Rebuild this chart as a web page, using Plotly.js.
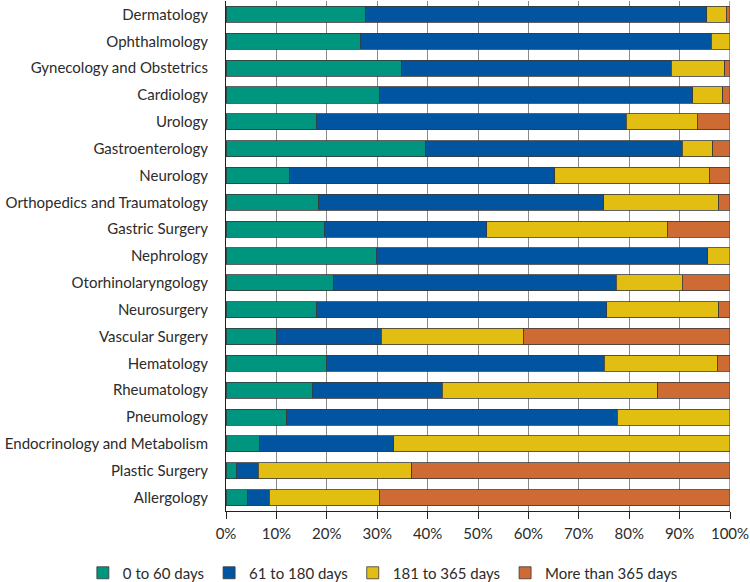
<!DOCTYPE html>
<html>
<head>
<meta charset="utf-8">
<script src="https://cdn.plot.ly/plotly-3.0.1.min.js"></script>
<style>html,body{margin:0;padding:0;background:#fff;}#chart{width:750px;height:582px;}</style>
</head>
<body>
<div id="chart"></div>
<script>
const categories = ["Dermatology","Ophthalmology","Gynecology and Obstetrics","Cardiology","Urology","Gastroenterology","Neurology","Orthopedics and Traumatology","Gastric Surgery","Nephrology","Otorhinolaryngology","Neurosurgery","Vascular Surgery","Hematology","Rheumatology","Pneumology","Endocrinology and Metabolism","Plastic Surgery","Allergology"];
const days0to60    = [27.7, 26.6, 34.9, 30.4, 17.9, 39.6, 12.5, 18.4, 19.5, 29.8, 21.4, 18.0, 10.0, 19.9, 17.1, 12.1, 6.6, 2.0, 4.2];
const days61to180  = [67.7, 69.7, 53.4, 62.2, 61.5, 50.9, 52.7, 56.5, 32.2, 65.8, 56.0, 57.5, 20.8, 55.1, 25.8, 65.5, 26.7, 4.4, 4.4];
const days181to365 = [3.9, 3.7, 10.7, 6.0, 14.1, 6.1, 30.7, 22.9, 35.8, 4.4, 13.1, 22.3, 28.2, 22.5, 42.8, 22.4, 66.7, 30.5, 21.8];
const daysOver365  = [0.7, 0.0, 1.0, 1.4, 6.5, 3.4, 4.1, 2.2, 12.5, 0.0, 9.5, 2.2, 41.0, 2.5, 14.3, 0.0, 0.0, 63.1, 69.6];
const seriesNames = ["0 to 60 days","61 to 180 days","181 to 365 days","More than 365 days"];
const tickVals = [0,10,20,30,40,50,60,70,80,90,100];
const tickText = ["0%","10%","20%","30%","40%","50%","60%","70%","80%","90%","100%"];

const colors = ["#00957F","#0054A0","#E3BE12","#CE6A34"];
const seriesData = [days0to60, days61to180, days181to365, daysOver365];
const traces = seriesData.map((vals, i) => ({
  type: 'bar',
  orientation: 'h',
  name: seriesNames[i],
  y: categories,
  x: vals,
  width: 0.6,
  marker: {color: colors[i], line: {color: '#3a3a3a', width: 0.8}},
  hoverinfo: 'none'
}));

const font = {family: 'Lato, "Open Sans", sans-serif', size: 15, color: '#2b2b2b'};
const layout = {
  width: 750, height: 582,
  barmode: 'stack',
  margin: {l: 226, r: 20, t: 1, b: 71, autoexpand: false},
  paper_bgcolor: '#fff', plot_bgcolor: '#fff',
  font: font,
  bargap: 0.4,
  xaxis: {
    range: [0, 100],
    tickvals: tickVals, ticktext: tickText,
    showgrid: true, gridcolor: '#8a8a8a', gridwidth: 1,
    zeroline: false,
    showline: true, linecolor: '#222', linewidth: 1, mirror: false,
    ticks: 'outside', ticklen: 7, tickcolor: '#222',
    ticklabelstandoff: 2,
    tickfont: font,
    automargin: false,
    fixedrange: true
  },
  yaxis: {
    autorange: 'reversed',
    type: 'category',
    showline: true, linecolor: '#222', linewidth: 1,
    ticks: '', ticklen: 0,
    tickfont: font,
    ticklabelstandoff: 14,
    showgrid: false,
    automargin: false,
    fixedrange: true
  },
  shapes: [{type: 'line', xref: 'x', yref: 'paper', x0: 100, x1: 100, y0: 0, y1: 1, line: {color: '#444', width: 1}}],
  legend: {
    orientation: 'h', xref: 'paper', yref: 'paper',
    x: -0.284, xanchor: 'left', y: -0.1216, yanchor: 'middle',
    font: font, traceorder: 'normal'
  },
  showlegend: true
};
Plotly.newPlot('chart', traces, layout, {displayModeBar: false, staticPlot: true});
</script>
</body>
</html>
